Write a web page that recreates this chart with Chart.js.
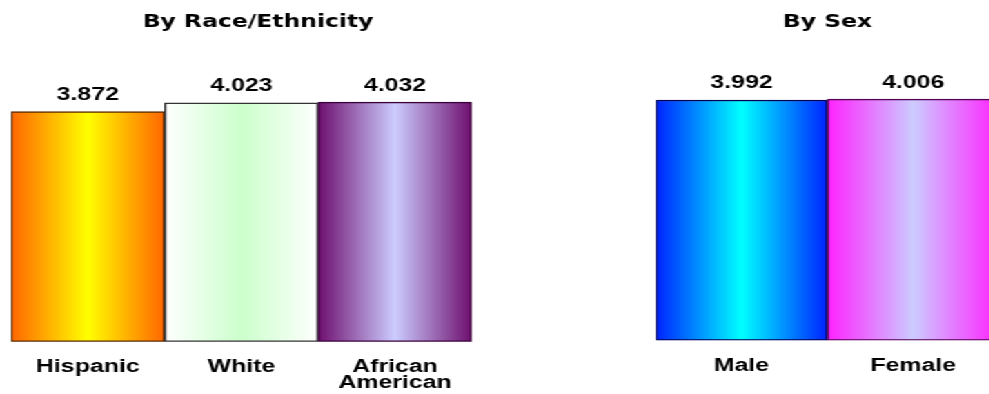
<!DOCTYPE html>
<html>
<head>
<meta charset="utf-8">
<script src="https://cdn.jsdelivr.net/npm/chart.js@4/dist/chart.umd.min.js"></script>
<style>
    html, body { margin: 0; padding: 0; background: #fff; overflow: hidden; width: 989px; height: 394px; }
    /* the original picture is stretched sideways, so the whole drawing is too */
    .wrap { position: absolute; left: 0; top: 0; width: 740px; height: 394px; transform: scaleX(1.38); transform-origin: 0 0; }
    #raceChart { position: absolute; left: 0; top: 0; }
    #sexChart { position: absolute; left: 460px; top: 0; }
</style>
</head>
<body>
<div class="wrap">
    <canvas id="raceChart" width="366" height="394"></canvas>
    <canvas id="sexChart" width="278" height="394"></canvas>
</div>
<script>
// Values
const raceLabels = ['Hispanic', 'White', ['African', 'American']];
const raceValues = [3.872, 4.023, 4.032];
const sexLabels = ['Male', 'Female'];
const sexValues = [3.992, 4.006];

// Gradient colours (edge, centre) and outline per bar
const raceFills = [['#ff6600', '#ffff00'], ['#ffffff', '#ccffcc'], ['#6e0f6e', '#ccccff']];
const raceBorders = ['#5a2a00', '#333333', '#3a003a'];
const sexFills = [['#0022ff', '#00ffff'], ['#ff22ff', '#ccccff']];
const sexBorders = ['#000055', '#550055'];

function barGradient(fills) {
    return (context) => {
        const chart = context.chart;
        const xs = chart.scales.x;
        if (!chart.chartArea || !xs) return fills[context.dataIndex][1];
        const half = (xs.right - xs.left) / chart.data.labels.length / 2;
        const cx = xs.getPixelForValue(context.dataIndex);
        const g = chart.ctx.createLinearGradient(cx - half, 0, cx + half, 0);
        const [edge, mid] = fills[context.dataIndex];
        g.addColorStop(0, edge);
        g.addColorStop(0.5, mid);
        g.addColorStop(1, edge);
        return g;
    };
}

// Value labels above the bars
const valueLabels = {
    id: 'valueLabels',
    afterDatasetsDraw(chart) {
        const ctx = chart.ctx;
        const data = chart.data.datasets[0].data;
        ctx.save();
        ctx.font = 'bold 18px "Liberation Sans", Arial, sans-serif';
        ctx.fillStyle = '#000';
        ctx.textAlign = 'center';
        ctx.textBaseline = 'alphabetic';
        chart.getDatasetMeta(0).data.forEach((bar, i) => {
            ctx.fillText(data[i].toFixed(3), bar.x, bar.y - 11.5);
        });
        ctx.restore();
    }
};

function makeChart(id, labels, values, fills, borders, title, opts) {
    const ctx = document.getElementById(id);
    const existing = Chart.getChart(ctx);
    if (existing) existing.destroy();

    return new Chart(ctx, {
        type: 'bar',
        data: {
            labels: labels,
            datasets: [{
                data: values,
                backgroundColor: barGradient(fills),
                borderColor: borders,
                borderWidth: 1.5,
                borderSkipped: false,
                barPercentage: 1,
                categoryPercentage: 1
            }]
        },
        options: {
            responsive: false,
            animation: false,
            events: [],
            layout: { padding: opts.padding },
            plugins: {
                legend: { display: false },
                tooltip: { enabled: false },
                title: {
                    display: true,
                    text: title,
                    color: '#000',
                    font: { family: '"DejaVu Sans"', size: 17, weight: 'bold', lineHeight: 1.2 },
                    padding: { top: 12, bottom: opts.titleGap }
                }
            },
            scales: {
                x: {
                    grid: { display: false, drawTicks: false },
                    border: { display: false },
                    ticks: {
                        color: '#000',
                        padding: 17.5,
                        maxRotation: 0,
                        autoSkip: false,
                        font: { family: '"Liberation Sans", Arial', size: 18, weight: 'bold', lineHeight: 0.88 }
                    },
                    afterFit: (scale) => { scale.height = opts.axisHeight; }
                },
                y: {
                    display: opts.yWidth > 0,
                    position: 'right',
                    min: 0,
                    max: 5,
                    grid: { display: false, drawTicks: false },
                    border: { display: false },
                    ticks: { display: false },
                    afterFit: (scale) => { scale.width = opts.yWidth; }
                }
            }
        },
        plugins: [valueLabels]
    });
}

makeChart('raceChart', raceLabels, raceValues, raceFills, raceBorders, 'By Race/Ethnicity', {
    padding: { left: 8, right: 0, top: 0, bottom: 0 },
    titleGap: 12.3,
    axisHeight: 52.3,
    yWidth: 24.2
});

makeChart('sexChart', sexLabels, sexValues, sexFills, sexBorders, 'By Sex', {
    padding: { left: 15.2, right: 14.1, top: 0, bottom: 0 },
    titleGap: 6.85,
    axisHeight: 53.5,
    yWidth: 0
});
</script>
</body>
</html>
